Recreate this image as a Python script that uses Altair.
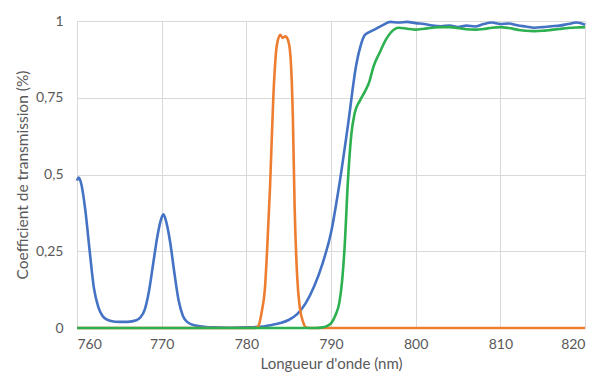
import altair as alt
import pandas as pd

# Blue series
blue_x = [760, 760.2, 760.5, 761, 761.5, 762, 762.5, 763, 763.5, 764, 765, 766, 767, 767.5, 768,
          768.5, 769, 769.5, 770, 770.2, 770.5, 771, 771.5, 772, 772.5, 773, 774, 775, 776, 778,
          780, 782, 783, 784, 785, 786, 787, 788, 789, 790, 791, 792, 793, 793.5, 794, 795, 796,
          797, 798, 799, 800, 801, 802, 803, 804, 805, 806, 807, 808, 809, 810, 811, 812, 813,
          814, 815, 816, 817, 818, 819, 820]
blue_y = [0.48, 0.49, 0.47, 0.38, 0.25, 0.13, 0.07, 0.04, 0.028, 0.023, 0.02, 0.02, 0.025, 0.035, 0.06,
          0.12, 0.21, 0.30, 0.36, 0.37, 0.35, 0.28, 0.18, 0.09, 0.04, 0.02, 0.008, 0.004, 0.002, 0.001,
          0.002, 0.005, 0.01, 0.016, 0.026, 0.045, 0.08, 0.135, 0.21, 0.31, 0.47, 0.66, 0.86, 0.92, 0.955, 0.97, 0.985,
          0.997, 0.995, 0.997, 0.993, 0.99, 0.985, 0.983, 0.985, 0.98, 0.985, 0.982, 0.99, 0.995, 0.99, 0.992, 0.986, 0.982,
          0.978, 0.98, 0.983, 0.985, 0.99, 0.995, 0.988]

# Orange series
orange_x = [760, 781, 781.4, 781.8, 782.2, 782.5, 782.8, 783.2, 783.6, 784, 784.3, 784.6, 784.9,
            785.2, 785.5, 785.7, 786, 786.3, 786.7, 787, 787.5, 820]
orange_y = [0, 0, 0.005, 0.05, 0.13, 0.28, 0.46, 0.76, 0.92, 0.955, 0.945, 0.95, 0.94,
            0.89, 0.68, 0.40, 0.17, 0.07, 0.02, 0.003, 0, 0]

# Green series
green_x = [760, 788, 789, 789.5, 790, 790.5, 791, 791.3, 791.6, 792, 792.4, 792.8, 793.4, 794, 794.5,
           795, 795.8, 796.5, 797, 798, 799, 800, 801, 802, 803, 804, 805, 806, 807, 808, 809, 810,
           811, 812, 813, 814, 815, 816, 817, 818, 819, 820]
green_y = [0, 0, 0.002, 0.006, 0.015, 0.04, 0.085, 0.15, 0.26, 0.48, 0.63, 0.70, 0.74, 0.77, 0.80,
           0.85, 0.90, 0.94, 0.96, 0.978, 0.975, 0.972, 0.975, 0.978, 0.98, 0.98, 0.977, 0.973, 0.972, 0.974, 0.978, 0.98,
           0.977, 0.972, 0.968, 0.967, 0.968, 0.971, 0.974, 0.977, 0.979, 0.98]

x_ticks = [760, 770, 780, 790, 800, 810, 820]
y_ticks = [0, 0.25, 0.5, 0.75, 1]

FONT = "Lato"
GREY = "#595959"

x_enc = alt.X("x:Q", scale=alt.Scale(domain=[760, 820], nice=False, zero=False),
              axis=alt.Axis(values=x_ticks, title="Longueur d'onde (nm)", labelPadding=9,
                            titlePadding=5, titleFontSize=15, format="d"))
y_enc = alt.Y("y:Q", scale=alt.Scale(domain=[0, 1], nice=False),
              axis=alt.Axis(values=y_ticks, title="Coefficient de transmission (%)",
                            labelExpr="replace(toString(datum.value), '.', ',')",
                            labelPadding=14, titlePadding=5))


def layer(xs, ys, color):
    df = pd.DataFrame({"x": xs, "y": ys})
    return alt.Chart(df).mark_line(color=color, strokeWidth=2.6, interpolate="monotone").encode(
        x=x_enc, y=y_enc)


chart = alt.layer(
    layer(blue_x, blue_y, "#4472C4"),
    layer(orange_x, orange_y, "#ED7D31"),
    layer(green_x, green_y, "#2DB04F"),
).properties(
    width=508, height=307,
    autosize=alt.AutoSizeParams(type="none"),
    padding={"left": 69, "top": 13, "right": 3, "bottom": 46},
).configure_view(stroke=None).configure_axis(
    domain=False, ticks=False, grid=True, gridColor="#D9D9D9", gridWidth=1,
    labelFont=FONT, titleFont=FONT, labelFontSize=14, titleFontSize=15.5,
    labelColor=GREY, titleColor=GREY, titleFontWeight="normal",
)

chart.save("out.html", embed_options={"renderer": "svg", "actions": False})
